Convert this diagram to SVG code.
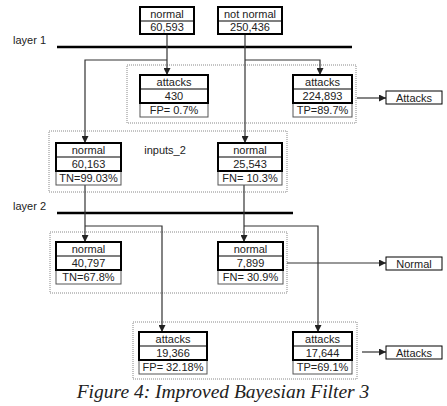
<svg xmlns="http://www.w3.org/2000/svg" width="447" height="406" viewBox="0 0 447 406">
<style>
text{font-family:"Liberation Sans",Arial,sans-serif;font-size:11px;fill:#222;text-anchor:middle}
.lbl{text-anchor:start}
.cont{fill:none;stroke:#888;stroke-width:1;stroke-dasharray:1,1}
.thick{fill:#fff;stroke:#000;stroke-width:2}
.sep{stroke:#000;stroke-width:1.2}
.pct{fill:#fff;stroke:#555;stroke-width:1}
.out{fill:#fff;stroke:#000;stroke-width:1}
.layer{stroke:#000;stroke-width:2.5}
.conn{fill:none;stroke:#333;stroke-width:1.2}
.cap{font-family:"Liberation Serif","Times New Roman",serif;font-style:italic;font-size:19.5px;fill:#222}
</style>
<defs>
<marker id="ah" markerUnits="userSpaceOnUse" markerWidth="7" markerHeight="7" refX="7" refY="3.5" orient="auto">
<path d="M0,0 L7,3.5 L0,7 z" fill="#222"/>
</marker>
</defs>

<g id="layer1">
<text class="lbl" x="13" y="44">layer 1</text>
<line class="layer" x1="57" y1="47" x2="352" y2="47"/>
</g>
<g id="layer2">
<text class="lbl" x="13" y="210">layer 2</text>
<line class="layer" x1="57" y1="213" x2="293" y2="213"/>
</g>

<g id="containers">
<rect class="cont" x="127" y="65" width="229" height="58"/>
<rect class="cont" x="49" y="131" width="238" height="61"/>
<text x="165" y="154">inputs_2</text>
<rect class="cont" x="50" y="232" width="237" height="61"/>
<rect class="cont" x="133" y="322" width="224" height="57"/>
</g>

<g id="connectors">
<path class="conn" d="M167,34 V75" marker-end="url(#ah)"/>
<path class="conn" d="M167,60 H85 V143" marker-end="url(#ah)"/>
<path class="conn" d="M245,34 V143" marker-end="url(#ah)"/>
<path class="conn" d="M245,60 H320 V75" marker-end="url(#ah)"/>
<path class="conn" d="M85,185 V242" marker-end="url(#ah)"/>
<path class="conn" d="M85,226 H162 V332" marker-end="url(#ah)"/>
<path class="conn" d="M244,185 V242" marker-end="url(#ah)"/>
<path class="conn" d="M244,226 H318 V332" marker-end="url(#ah)"/>
<path class="conn" d="M357,98 H386" marker-end="url(#ah)"/>
<path class="conn" d="M287,263 H386" marker-end="url(#ah)"/>
<path class="conn" d="M362,352 H386" marker-end="url(#ah)"/>
</g>

<g id="n_normal_top">
<rect class="thick" x="140" y="7" width="54" height="27"/>
<line class="sep" x1="140" y1="21" x2="194" y2="21"/>
<text x="167" y="18">normal</text>
<text x="167" y="31">60,593</text>
</g>
<g id="n_notnormal_top">
<rect class="thick" x="218" y="7" width="64" height="27"/>
<line class="sep" x1="218" y1="21" x2="282" y2="21"/>
<text x="250" y="18">not normal</text>
<text x="250" y="31">250,436</text>
</g>

<g id="n_attacks_430">
<rect class="pct" x="140" y="103" width="68" height="14"/>
<rect class="thick" x="140" y="75" width="68" height="28"/>
<line class="sep" x1="140" y1="89" x2="208" y2="89"/>
<text x="174" y="86">attacks</text>
<text x="174" y="100">430</text>
<text x="174" y="114">FP= 0.7%</text>
</g>
<g id="n_attacks_224893">
<rect class="pct" x="293" y="103" width="59" height="14"/>
<rect class="thick" x="293" y="75" width="59" height="28"/>
<line class="sep" x1="293" y1="89" x2="352" y2="89"/>
<text x="322.5" y="86">attacks</text>
<text x="322.5" y="100">224,893</text>
<text x="322.5" y="114">TP=89.7%</text>
</g>

<g id="n_normal_60163">
<rect class="pct" x="56" y="171" width="65" height="14"/>
<rect class="thick" x="56" y="143" width="65" height="28"/>
<line class="sep" x1="56" y1="157" x2="121" y2="157"/>
<text x="88.5" y="154">normal</text>
<text x="88.5" y="168">60,163</text>
<text x="88.5" y="182">TN=99.03%</text>
</g>
<g id="n_normal_25543">
<rect class="pct" x="218" y="171" width="64" height="14"/>
<rect class="thick" x="218" y="143" width="64" height="28"/>
<line class="sep" x1="218" y1="157" x2="282" y2="157"/>
<text x="250" y="154">normal</text>
<text x="250" y="168">25,543</text>
<text x="250" y="182">FN= 10.3%</text>
</g>

<g id="n_normal_40797">
<rect class="pct" x="56" y="270" width="65" height="14"/>
<rect class="thick" x="56" y="242" width="65" height="28"/>
<line class="sep" x1="56" y1="256" x2="121" y2="256"/>
<text x="88.5" y="253">normal</text>
<text x="88.5" y="267">40,797</text>
<text x="88.5" y="281">TN=67.8%</text>
</g>
<g id="n_normal_7899">
<rect class="pct" x="218" y="270" width="65" height="14"/>
<rect class="thick" x="218" y="242" width="65" height="28"/>
<line class="sep" x1="218" y1="256" x2="283" y2="256"/>
<text x="250.5" y="253">normal</text>
<text x="250.5" y="267">7,899</text>
<text x="250.5" y="281">FN= 30.9%</text>
</g>

<g id="n_attacks_19366">
<rect class="pct" x="139" y="360" width="68" height="14"/>
<rect class="thick" x="139" y="332" width="68" height="28"/>
<line class="sep" x1="139" y1="346" x2="207" y2="346"/>
<text x="173" y="343">attacks</text>
<text x="173" y="357">19,366</text>
<text x="173" y="371">FP= 32.18%</text>
</g>
<g id="n_attacks_17644">
<rect class="pct" x="293" y="360" width="59" height="14"/>
<rect class="thick" x="293" y="332" width="59" height="28"/>
<line class="sep" x1="293" y1="346" x2="352" y2="346"/>
<text x="322.5" y="343">attacks</text>
<text x="322.5" y="357">17,644</text>
<text x="322.5" y="371">TP=69.1%</text>
</g>

<g id="out_attacks1">
<rect class="out" x="386" y="91" width="56" height="13"/>
<text x="414" y="101.5">Attacks</text>
</g>
<g id="out_normal">
<rect class="out" x="386" y="257" width="56" height="13"/>
<text x="414" y="267.5">Normal</text>
</g>
<g id="out_attacks2">
<rect class="out" x="386" y="346" width="56" height="13"/>
<text x="414" y="356.5">Attacks</text>
</g>

<text class="cap" x="223" y="398">Figure 4: Improved Bayesian Filter 3</text>
</svg>
